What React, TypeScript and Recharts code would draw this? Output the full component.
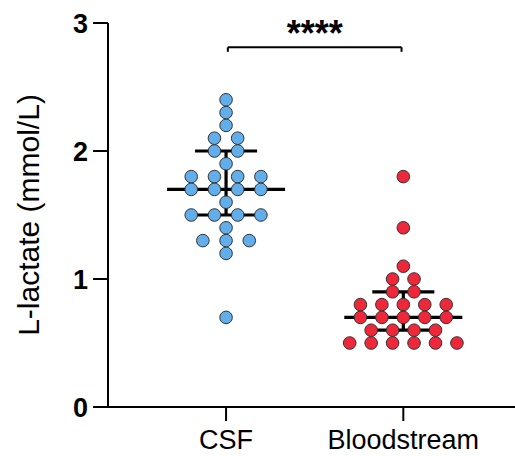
import { ScatterChart, Scatter, XAxis, YAxis, ReferenceLine } from 'recharts';

const groups = ['CSF', 'Bloodstream'];

// L-lactate (mmol/L), one value per patient
const csfLactate = [
  2.4, 2.3, 2.2, 2.1, 2.1, 2.0, 2.0, 1.9, 1.8, 1.8, 1.8, 1.8, 1.7, 1.7,
  1.7, 1.7, 1.6, 1.5, 1.5, 1.5, 1.5, 1.4, 1.3, 1.3, 1.3, 1.2, 0.7,
];
const bloodLactate = [
  1.8, 1.4, 1.1, 1.0, 1.0, 0.9, 0.9, 0.8, 0.8, 0.8, 0.8, 0.8, 0.7, 0.7,
  0.7, 0.7, 0.7, 0.6, 0.6, 0.6, 0.6, 0.5, 0.5, 0.5, 0.5, 0.5, 0.5,
];
const yTicks = [0, 1, 2, 3];
const significance = '****';

const FONT = '"Liberation Sans", Arial, sans-serif';
const BLUE = '#62AEEA';
const RED = '#EE2739';

// spread equal values side by side around the group centre
function swarm(values: number[], center: number, step: number) {
  const counts = new Map<number, number>();
  values.forEach(v => counts.set(v, (counts.get(v) ?? 0) + 1));
  const seen = new Map<number, number>();
  return values.map(v => {
    const n = counts.get(v)!;
    const i = seen.get(v) ?? 0;
    seen.set(v, i + 1);
    return { x: center + (i - (n - 1) / 2) * step, y: v };
  });
}

function quartiles(values: number[]) {
  const s = [...values].sort((a, b) => a - b);
  const at = (p: number) => {
    const r = p * (s.length + 1) - 1;
    const lo = Math.floor(r);
    const f = r - lo;
    return s[lo] + f * ((s[lo + 1] ?? s[lo]) - s[lo]);
  };
  return { q1: at(0.25), median: at(0.5), q3: at(0.75) };
}

const series = [
  { name: groups[0], values: csfLactate, color: BLUE, step: 0.131 },
  { name: groups[1], values: bloodLactate, color: RED, step: 0.121 },
];

const dot = (color: string) => (props: any) => (
  <circle cx={props.cx} cy={props.cy} r={6.3} fill={color} stroke="#333" strokeWidth={1} />
);

const lineStyle = { stroke: '#000', strokeWidth: 3.2, ifOverflow: 'visible' as const };

export default function App() {
  const bracketY = 2.81;
  return (
    <div style={{ position: 'absolute', left: 0, top: 0 }}>
      <ScatterChart width={515} height={456} margin={{ top: 23, right: 0, bottom: 0, left: 0 }}>
        <XAxis
          type="number"
          dataKey="x"
          domain={[-0.666, 1.63]}
          ticks={[0, 1]}
          tickFormatter={(i: number) => groups[i]}
          allowDataOverflow
          height={49}
          tickSize={14}
          tickMargin={9}
          axisLine={{ stroke: '#000', strokeWidth: 2 }}
          tickLine={{ stroke: '#000', strokeWidth: 2 }}
          tick={{ fontSize: 27, fill: '#000', fontFamily: FONT }}
        />
        <YAxis
          type="number"
          dataKey="y"
          domain={[0, 3]}
          ticks={yTicks}
          width={108}
          tickSize={15}
          tickMargin={5}
          axisLine={{ stroke: '#000', strokeWidth: 2 }}
          tickLine={{ stroke: '#000', strokeWidth: 2 }}
          tick={{ fontSize: 27, fontWeight: 'bold', fill: '#000', fontFamily: FONT }}
          label={{
            content: (p: any) => {
              const vb = p.viewBox;
              const x = vb.x + 39;
              const y = vb.y + vb.height / 2;
              return (
                <text
                  transform={`translate(${x}, ${y}) rotate(-90)`}
                  textAnchor="middle"
                  fontSize={30}
                  fontFamily={FONT}
                  fill="#000"
                >
                  L-lactate (mmol/L)
                </text>
              );
            },
          }}
        />
        {series.map((s, gi) => {
          const q = quartiles(s.values);
          return [
            <ReferenceLine key={`m${gi}`} segment={[{ x: gi - 0.333, y: q.median }, { x: gi + 0.333, y: q.median }]} {...lineStyle} />,
            <ReferenceLine key={`a${gi}`} segment={[{ x: gi - 0.175, y: q.q3 }, { x: gi + 0.175, y: q.q3 }]} {...lineStyle} />,
            <ReferenceLine key={`b${gi}`} segment={[{ x: gi - 0.175, y: q.q1 }, { x: gi + 0.175, y: q.q1 }]} {...lineStyle} />,
            <ReferenceLine key={`v${gi}`} segment={[{ x: gi, y: q.q1 }, { x: gi, y: q.q3 }]} {...lineStyle} />,
          ];
        })}
        <ReferenceLine
          segment={[{ x: 0.01, y: bracketY }, { x: 0.99, y: bracketY }]}
          stroke="#000"
          strokeWidth={2}
          ifOverflow="visible"
          label={{ value: significance, position: 'top', offset: 1, fill: '#000', fontSize: 36, fontWeight: 'bold', fontFamily: FONT }}
        />
        <ReferenceLine segment={[{ x: 0.01, y: bracketY }, { x: 0.01, y: bracketY - 0.035 }]} stroke="#000" strokeWidth={2} ifOverflow="visible" />
        <ReferenceLine segment={[{ x: 0.99, y: bracketY }, { x: 0.99, y: bracketY - 0.035 }]} stroke="#000" strokeWidth={2} ifOverflow="visible" />
        {series.map((s, gi) => (
          <Scatter
            key={s.name}
            name={s.name}
            data={swarm(s.values, gi, s.step)}
            shape={dot(s.color)}
            isAnimationActive={false}
          />
        ))}
      </ScatterChart>
    </div>
  );
}
